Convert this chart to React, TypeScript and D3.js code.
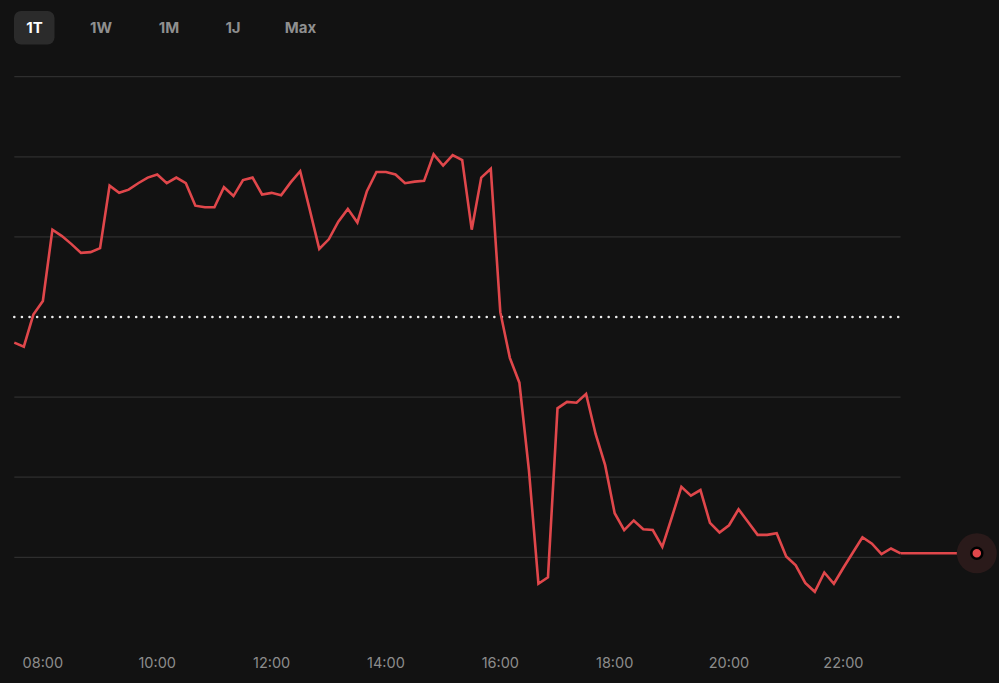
import React from "react";
import * as d3 from "d3";

const W = 999;
const H = 683;

// Time of first sample (minutes after midnight) and 10-min step
const START_MIN = 7 * 60 + 30;
const STEP_MIN = 10;
const DOMAIN_END_MIN = 24 * 60 + 20;

const prices: number[] = [
  99.68, 99.63, 100.03, 100.2, 101.09, 101.01, 100.91, 100.8, 100.81, 100.86,
  101.64, 101.55, 101.59, 101.67, 101.74, 101.78, 101.67, 101.74, 101.67, 101.39,
  101.37, 101.37, 101.62, 101.51, 101.71, 101.74, 101.53, 101.55, 101.52, 101.68,
  101.82, 101.34, 100.85, 100.97, 101.19, 101.35, 101.18, 101.57, 101.81, 101.81,
  101.78, 101.67, 101.69, 101.7, 102.03, 101.89, 102.02, 101.96, 101.09, 101.74,
  101.85, 100.06, 99.49, 99.18, 98.09, 96.67, 96.75, 98.86, 98.94, 98.93,
  99.04, 98.54, 98.15, 97.55, 97.34, 97.46, 97.35, 97.34, 97.13, 97.5,
  97.88, 97.77, 97.84, 97.43, 97.31, 97.4, 97.6, 97.44, 97.28, 97.28,
  97.3, 97.01, 96.9, 96.68, 96.57, 96.81, 96.67, 96.87, 97.06, 97.25,
  97.17, 97.04, 97.11, 97.05,
];

const previousClose = 100;
const gridValues: number[] = [103, 102, 101, 99, 98, 97];
const tickHours: number[] = [8, 10, 12, 14, 16, 18, 20, 22];
const tickLabels: string[] = ["08:00", "10:00", "12:00", "14:00", "16:00", "18:00", "20:00", "22:00"];
const ranges: string[] = ["1T", "1W", "1M", "1J", "Max"];
const rangeCenters: number[] = [34.5, 101, 169, 233, 300.5];

const BG = "#121212";
const RED = "#e0474b";

export default function App() {
  const x = d3.scaleLinear().domain([START_MIN, DOMAIN_END_MIN]).range([14.3, 976.8]);
  const y = d3.scaleLinear().domain([97, 103]).range([557.3, 76.7]);

  const data = prices.map((v, i) => ({ t: START_MIN + i * STEP_MIN, v }));
  const last = data[data.length - 1];
  const lineGen = d3
    .line<{ t: number; v: number }>()
    .x((d) => x(d.t))
    .y((d) => y(d.v));

  const x0 = x(START_MIN);
  const xLast = x(last.t);
  const xEnd = x(DOMAIN_END_MIN);

  return (
    <div style={{ position: "absolute", left: 0, top: 0, width: W, height: H, background: BG }}>
      <svg width={W} height={H} style={{ display: "block" }} fontFamily="Inter, 'Noto Sans', sans-serif">
        <rect x={0} y={0} width={W} height={H} fill={BG} />
        {/* range buttons */}
        <rect x={14} y={11} width={40.5} height={33.5} rx={7} fill="#2b2b2b" />
        {ranges.map((r, i) => (
          <text
            key={r}
            x={rangeCenters[i]}
            y={27.8}
            textAnchor="middle"
            dominantBaseline="central"
            fontSize={15}
            fontWeight={700}
            fill={i === 0 ? "#ffffff" : "#8f8f8f"}
          >
            {r}
          </text>
        ))}
        {/* grid */}
        {gridValues.map((g) => (
          <line key={g} x1={x0} x2={xLast} y1={y(g)} y2={y(g)} stroke="#2e2e2e" strokeWidth={1.3} />
        ))}
        {/* previous close dotted */}
        <line
          x1={x0}
          x2={xLast}
          y1={y(previousClose)}
          y2={y(previousClose)}
          stroke="#ececec"
          strokeWidth={2.6}
          strokeDasharray="0 7.62"
          strokeLinecap="round"
        />
        {/* price line */}
        <path d={lineGen(data) || ""} fill="none" stroke={RED} strokeWidth={2.6} strokeLinejoin="miter" />
        <line x1={xLast} x2={xEnd} y1={y(last.v)} y2={y(last.v)} stroke={RED} strokeWidth={2.6} />
        {/* end marker */}
        <circle cx={xEnd} cy={y(last.v)} r={20} fill="#2a1a1a" />
        <circle cx={xEnd} cy={y(last.v)} r={5.5} fill={RED} stroke="#000" strokeWidth={2.5} />
        {/* x axis labels */}
        {tickHours.map((h, i) => (
          <text
            key={h}
            x={x(h * 60)}
            y={662}
            textAnchor="middle"
            dominantBaseline="central"
            fontSize={14.5}
            fill="#8c8c8c"
          >
            {tickLabels[i]}
          </text>
        ))}
      </svg>
    </div>
  );
}
